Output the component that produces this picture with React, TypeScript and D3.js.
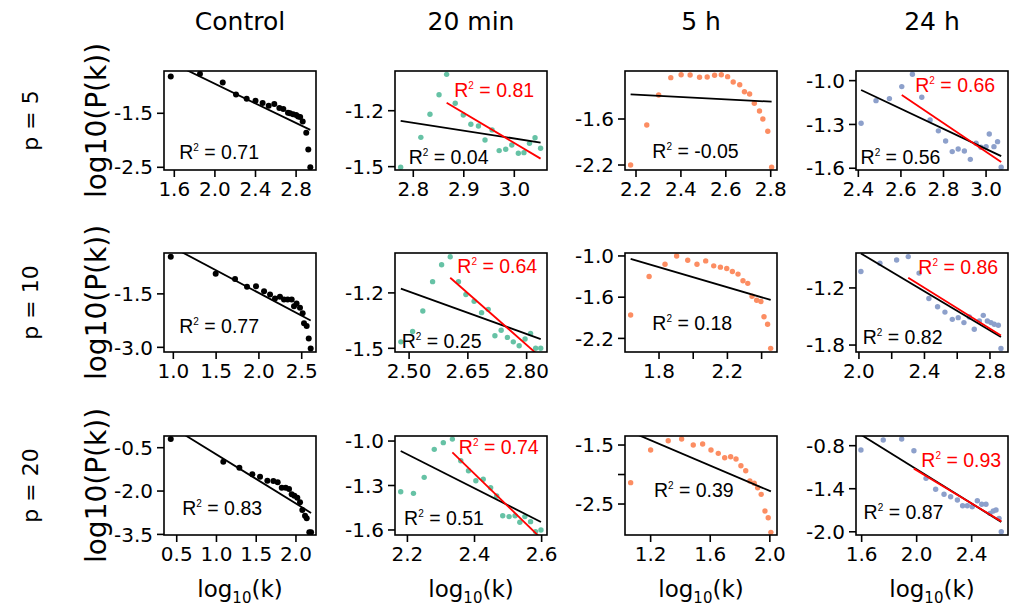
import React from "react";
import * as d3 from "d3";

type Pt = [number, number];

// ---------- labels ----------
const columnTitles = ["Control", "20 min", "5 h", "24 h"];
const rowTitles = ["p = 5", "p = 10", "p = 20"];
const yAxisLabel = "log10(P(k))";

// ---------- data: log10(k), log10(P(k)) ----------
const controlP5: Pt[] = [
  [1.565, -0.82], [1.853, -0.77], [2.077, -0.93], [2.208, -1.15], [2.313, -1.23], [2.4, -1.27],
  [2.47, -1.31], [2.53, -1.36], [2.585, -1.33], [2.635, -1.4], [2.674, -1.42], [2.72, -1.49],
  [2.74, -1.5], [2.77, -1.52], [2.8, -1.53], [2.82, -1.56], [2.84, -1.57], [2.865, -1.65],
  [2.9, -1.86], [2.92, -2.17], [2.94, -2.5],
];
const min20P5: Pt[] = [
  [2.775, -1.503], [2.815, -1.343], [2.833, -1.219], [2.851, -1.114], [2.866, -1.005], [2.883, -1.16],
  [2.899, -1.223], [2.914, -1.273], [2.929, -1.282], [2.942, -1.357], [2.956, -1.303], [2.97, -1.414],
  [2.983, -1.407], [2.995, -1.384], [3.008, -1.428], [3.019, -1.425], [3.03, -1.375], [3.041, -1.345],
  [3.052, -1.401],
];
const h5P5: Pt[] = [
  [2.176, -2.2], [2.248, -1.678], [2.301, -1.287], [2.355, -1.061], [2.401, -1.022], [2.441, -1.026],
  [2.483, -1.056], [2.517, -1.052], [2.55, -1.03], [2.58, -1.022], [2.608, -1.048], [2.633, -1.118],
  [2.662, -1.153], [2.683, -1.244], [2.706, -1.274], [2.727, -1.395], [2.75, -1.496], [2.765, -1.6],
  [2.787, -1.76], [2.804, -2.23],
];
const h24P5: Pt[] = [
  [2.413, -1.292], [2.483, -1.137], [2.546, -1.123], [2.604, -1.041], [2.654, -0.956], [2.698, -1.114],
  [2.737, -1.269], [2.776, -1.344], [2.81, -1.413], [2.841, -1.486], [2.869, -1.468], [2.898, -1.482],
  [2.926, -1.539], [2.953, -1.429], [2.976, -1.456], [3.0, -1.452], [3.015, -1.365], [3.037, -1.452],
  [3.054, -1.418], [3.071, -1.593],
];
const controlP10: Pt[] = [
  [0.97, -0.456], [1.495, -0.936], [1.721, -1.083], [1.861, -1.297], [1.966, -1.289], [2.06, -1.428],
  [2.13, -1.519], [2.188, -1.63], [2.246, -1.583], [2.293, -1.658], [2.336, -1.658], [2.383, -1.658],
  [2.41, -1.844], [2.44, -1.769], [2.48, -1.889], [2.511, -2.047], [2.527, -2.325], [2.558, -2.4],
  [2.582, -2.75], [2.605, -3.03],
];
const min20P10: Pt[] = [
  [2.479, -1.465], [2.509, -1.409], [2.535, -1.298], [2.56, -1.139], [2.583, -1.048], [2.605, -1.004],
  [2.626, -1.139], [2.645, -1.209], [2.666, -1.245], [2.685, -1.307], [2.702, -1.289], [2.719, -1.432],
  [2.735, -1.402], [2.751, -1.441], [2.766, -1.465], [2.781, -1.486], [2.796, -1.45], [2.81, -1.42],
  [2.823, -1.5], [2.836, -1.5],
];
const h5P10: Pt[] = [
  [1.634, -1.86], [1.742, -1.298], [1.835, -1.12], [1.903, -1.0], [1.968, -1.062], [2.022, -1.12],
  [2.073, -1.072], [2.12, -1.144], [2.159, -1.163], [2.196, -1.183], [2.229, -1.226], [2.262, -1.264],
  [2.291, -1.36], [2.319, -1.399], [2.344, -1.586], [2.371, -1.644], [2.396, -1.663], [2.414, -1.884],
  [2.435, -1.994], [2.453, -2.345],
];
const h24P10: Pt[] = [
  [2.012, -1.027], [2.128, -0.94], [2.23, -0.906], [2.301, -0.871], [2.367, -1.044], [2.427, -1.311],
  [2.48, -1.398], [2.525, -1.454], [2.57, -1.53], [2.606, -1.512], [2.641, -1.564], [2.674, -1.506],
  [2.704, -1.634], [2.735, -1.548], [2.759, -1.488], [2.784, -1.548], [2.806, -1.564], [2.826, -1.582],
  [2.851, -1.592], [2.867, -1.835],
];
const controlP20: Pt[] = [
  [0.425, -0.2], [1.086, -0.984], [1.288, -1.192], [1.451, -1.422], [1.548, -1.503], [1.64, -1.642],
  [1.716, -1.652], [1.77, -1.698], [1.821, -1.884], [1.871, -1.884], [1.913, -1.929], [1.946, -2.113],
  [1.98, -2.16], [2.017, -2.23], [2.051, -2.389], [2.08, -2.656], [2.114, -2.853], [2.135, -2.943],
  [2.168, -3.427], [2.19, -3.43],
];
const min20P20: Pt[] = [
  [2.18, -1.342], [2.218, -1.353], [2.25, -1.245], [2.28, -1.056], [2.307, -1.011], [2.334, -0.987],
  [2.359, -1.133], [2.382, -1.2], [2.404, -1.268], [2.426, -1.258], [2.448, -1.315], [2.466, -1.371],
  [2.484, -1.504], [2.503, -1.51], [2.521, -1.504], [2.535, -1.548], [2.55, -1.51], [2.567, -1.544],
  [2.582, -1.611], [2.598, -1.6],
];
const h5P20: Pt[] = [
  [1.066, -2.138], [1.2, -1.585], [1.318, -1.427], [1.408, -1.398], [1.486, -1.5], [1.549, -1.483],
  [1.605, -1.585], [1.654, -1.641], [1.697, -1.715], [1.737, -1.698], [1.773, -1.737], [1.806, -1.851],
  [1.838, -1.935], [1.866, -2.11], [1.895, -2.149], [1.918, -2.223], [1.942, -2.336], [1.967, -2.619],
  [1.989, -2.732], [2.007, -2.98],
];
const h24P20: Pt[] = [
  [1.595, -0.86], [1.757, -0.72], [1.891, -0.707], [1.98, -0.87], [2.068, -1.255], [2.138, -1.408],
  [2.199, -1.478], [2.247, -1.511], [2.296, -1.557], [2.334, -1.637], [2.368, -1.637], [2.404, -1.651],
  [2.441, -1.567], [2.473, -1.617], [2.504, -1.617], [2.533, -1.743], [2.557, -1.711], [2.577, -1.697],
  [2.599, -1.813], [2.615, -2.0],
];

const panelPoints: Pt[][] = [
  controlP5, min20P5, h5P5, h24P5,
  controlP10, min20P10, h5P10, h24P10,
  controlP20, min20P20, h5P20, h24P20,
];

// fits over all points: [x0, y0, x1, y1]
const fitAll: number[][] = [
  [1.565, -0.557, 2.94, -1.808],
  [2.775, -1.254, 3.052, -1.371],
  [2.176, -1.278, 2.804, -1.374],
  [2.413, -1.064, 3.071, -1.517],
  [0.97, -0.164, 2.605, -2.245],
  [2.479, -1.177, 2.836, -1.45],
  [1.634, -1.043, 2.453, -1.64],
  [2.012, -0.838, 2.867, -1.716],
  [0.425, 0.241, 2.19, -2.756],
  [2.18, -1.067, 2.598, -1.546],
  [1.066, -1.275, 2.007, -2.286],
  [1.595, -0.647, 2.615, -1.862],
];
// fits over the tail (after the peak)
const fitTail: (number[] | null)[] = [
  null, [2.866, -1.157, 3.052, -1.457], null, [2.604, -1.098, 3.071, -1.558],
  null, [2.605, -1.118, 2.836, -1.549], null, [2.301, -1.093, 2.867, -1.70],
  null, [2.334, -1.076, 2.598, -1.656], null, [1.98, -1.12, 2.615, -1.855],
];
const r2All = ["0.71", "0.04", "-0.05", "0.56", "0.77", "0.25", "0.18", "0.82", "0.83", "0.51", "0.39", "0.87"];
const r2Tail = [null, "0.81", null, "0.66", null, "0.64", null, "0.86", null, "0.74", null, "0.93"];

// axis limits
const xLimits: number[][] = [
  [1.4985, 2.996], [2.7638, 3.0647], [2.151, 2.828], [2.389, 3.103],
  [0.891, 2.667], [2.464, 2.852], [1.601, 2.49], [1.982, 2.91],
  [0.34, 2.252], [2.163, 2.616], [1.028, 2.048], [1.559, 2.664],
];
const yLimits: number[][] = [
  [-2.55, -0.717], [-1.518, -0.987], [-2.265, -0.974], [-1.612, -0.934],
  [-3.131, -0.353], [-1.52, -0.984], [-2.398, -0.957], [-1.873, -0.833],
  [-3.521, -0.095], [-1.634, -0.966], [-3.025, -1.347], [-2.045, -0.665],
];
const xTicks: number[][] = [
  [1.6, 2.0, 2.4, 2.8], [2.8, 2.9, 3.0], [2.2, 2.4, 2.6, 2.8], [2.4, 2.6, 2.8, 3.0],
  [1.0, 1.5, 2.0, 2.5], [2.5, 2.65, 2.8], [1.8, 2.0, 2.2, 2.4], [2.0, 2.2, 2.4, 2.6, 2.8],
  [0.5, 1.0, 1.5, 2.0], [2.2, 2.4, 2.6], [1.2, 1.6, 2.0], [1.6, 2.0, 2.4],
];
const xTickLabels: string[][] = [
  ["1.6", "2.0", "2.4", "2.8"], ["2.8", "2.9", "3.0"], ["2.2", "2.4", "2.6", "2.8"], ["2.4", "2.6", "2.8", "3.0"],
  ["1.0", "1.5", "2.0", "2.5"], ["2.50", "2.65", "2.80"], ["1.8", "", "2.2", ""], ["2.0", "", "2.4", "", "2.8"],
  ["0.5", "1.0", "1.5", "2.0"], ["2.2", "2.4", "2.6"], ["1.2", "1.6", "2.0"], ["1.6", "2.0", "2.4"],
];
const yTicks: number[][] = [
  [-1.5, -2.5], [-1.2, -1.5], [-1.6, -2.2], [-1.0, -1.3, -1.6],
  [-1.5, -3.0], [-1.2, -1.5], [-1.0, -1.6, -2.2], [-1.2, -1.8],
  [-0.5, -2.0, -3.5], [-1.0, -1.3, -1.6], [-1.5, -2.0, -2.5], [-0.8, -1.4, -2.0],
];
const yTickLabels: string[][] = [
  ["-1.5", "-2.5"], ["-1.2", "-1.5"], ["-1.6", "-2.2"], ["-1.0", "-1.3", "-1.6"],
  ["-1.5", "-3.0"], ["-1.2", "-1.5"], ["-1.0", "-1.6", "-2.2"], ["-1.2", "-1.8"],
  ["-0.5", "-2.0", "-3.5"], ["-1.0", "-1.3", "-1.6"], ["-1.5", "", "-2.5"], ["-0.8", "-1.4", "-2.0"],
];

// ---------- layout & style ----------
const W = 1009;
const H = 607;
const PW = 152;
const PH = 99;
const COL_X = [164, 395, 625, 856];
const ROW_Y = [71, 253, 436];
const COLORS = ["#000000", "#66c2a5", "#fc8d62", "#8da0cb"];
const FONT = "DejaVu Sans, Verdana, sans-serif";
const R2_FONT = "Liberation Sans, Arial, sans-serif";
const TICK_FS = 20;
const R2_FS = 19.5;
const TITLE_FS = 25;
const YLABEL_FS = 28;
const XLABEL_FS = 23;
const ROW_FS = 22;
const TICK_LEN = 7;
// R² label anchors as fractions of the panel (left, baseline)
const r2AllPos: Pt[] = [
  [0.1, 0.89], [0.09, 0.94], [0.18, 0.88], [0.03, 0.94],
  [0.1, 0.81], [0.044, 0.96], [0.18, 0.78], [0.044, 0.92],
  [0.12, 0.8], [0.06, 0.9], [0.19, 0.62], [0.05, 0.84],
];
const r2TailPos: (Pt | null)[] = [
  null, [0.39, 0.26], null, [0.39, 0.21],
  null, [0.41, 0.2], null, [0.41, 0.21],
  null, [0.42, 0.18], null, [0.43, 0.31],
];

function R2Text({ x, y, value, color }: { x: number; y: number; value: string; color: string }) {
  return (
    <text x={x} y={y} fontSize={R2_FS} fill={color} fontFamily={R2_FONT}>
      <tspan>R</tspan>
      <tspan fontSize={10} dy={-8}>2</tspan>
      <tspan dy={8}>{" = " + value}</tspan>
    </text>
  );
}

function Panel({ i }: { i: number }) {
  const r = Math.floor(i / 4);
  const c = i % 4;
  const left = COL_X[c];
  const top = ROW_Y[r];
  const xs = d3.scaleLinear().domain(xLimits[i]).range([left, left + PW]);
  const ys = d3.scaleLinear().domain(yLimits[i]).range([top + PH, top]);
  const line = d3.line<Pt>().x((d) => xs(d[0])).y((d) => ys(d[1]));
  const fa = fitAll[i];
  const ft = fitTail[i];
  const clipId = `clip-${i}`;
  const color = COLORS[c];
  const rad = c === 0 ? 3 : 2.7;
  return (
    <g>
      <defs>
        <clipPath id={clipId}>
          <rect x={left} y={top} width={PW} height={PH} />
        </clipPath>
      </defs>
      <g clipPath={`url(#${clipId})`}>
        {panelPoints[i].map((p, k) => (
          <circle key={k} cx={xs(p[0])} cy={ys(p[1])} r={rad} fill={color} />
        ))}
        <path d={line([[fa[0], fa[1]], [fa[2], fa[3]]]) || ""} stroke="#000" strokeWidth={1.8} fill="none" />
        {ft && (
          <path d={line([[ft[0], ft[1]], [ft[2], ft[3]]]) || ""} stroke="#ff0000" strokeWidth={1.8} fill="none" />
        )}
      </g>
      <rect x={left} y={top} width={PW} height={PH} fill="none" stroke="#000" strokeWidth={1.6} />
      {xTicks[i].map((t, k) => (
        <g key={"x" + k}>
          <line x1={xs(t)} x2={xs(t)} y1={top + PH} y2={top + PH + TICK_LEN} stroke="#000" strokeWidth={1.6} />
          <text x={xs(t)} y={top + PH + TICK_LEN + 19} textAnchor="middle" fontSize={TICK_FS} fontFamily={FONT}>
            {xTickLabels[i][k]}
          </text>
        </g>
      ))}
      {yTicks[i].map((t, k) => (
        <g key={"y" + k}>
          <line x1={left - TICK_LEN} x2={left} y1={ys(t)} y2={ys(t)} stroke="#000" strokeWidth={1.6} />
          <text x={left - TICK_LEN - 4} y={ys(t)} dy="0.36em" textAnchor="end" fontSize={TICK_FS} fontFamily={FONT}>
            {yTickLabels[i][k]}
          </text>
        </g>
      ))}
      <R2Text x={left + r2AllPos[i][0] * PW} y={top + r2AllPos[i][1] * PH} value={r2All[i]} color="#000" />
      {r2Tail[i] && r2TailPos[i] && (
        <R2Text
          x={left + (r2TailPos[i] as Pt)[0] * PW}
          y={top + (r2TailPos[i] as Pt)[1] * PH}
          value={r2Tail[i] as string}
          color="#ff0000"
        />
      )}
    </g>
  );
}

export default function App() {
  return (
    <svg
      width={W}
      height={H}
      style={{ position: "absolute", left: 0, top: 0, background: "#fff" }}
      fontFamily={FONT}
    >
      <rect x={0} y={0} width={W} height={H} fill="#fff" />
      {columnTitles.map((t, c) => (
        <text key={t} x={COL_X[c] + PW / 2} y={30} textAnchor="middle" fontSize={TITLE_FS}>
          {t}
        </text>
      ))}
      {rowTitles.map((t, r) => (
        <g key={t}>
          <text
            transform={`translate(38,${ROW_Y[r] + PH / 2}) rotate(-90)`}
            textAnchor="middle"
            fontSize={ROW_FS}
          >
            {t}
          </text>
          <text
            transform={`translate(106,${ROW_Y[r] + PH / 2}) rotate(-90)`}
            textAnchor="middle"
            fontSize={YLABEL_FS}
          >
            {yAxisLabel}
          </text>
        </g>
      ))}
      {columnTitles.map((t, c) => (
        <text key={"xl" + t} x={COL_X[c] + PW / 2} y={597} textAnchor="middle" fontSize={XLABEL_FS}>
          <tspan>log</tspan>
          <tspan fontSize={15} dy={6}>10</tspan>
          <tspan dy={-6}>(k)</tspan>
        </text>
      ))}
      {panelPoints.map((_, i) => (
        <Panel key={i} i={i} />
      ))}
    </svg>
  );
}
